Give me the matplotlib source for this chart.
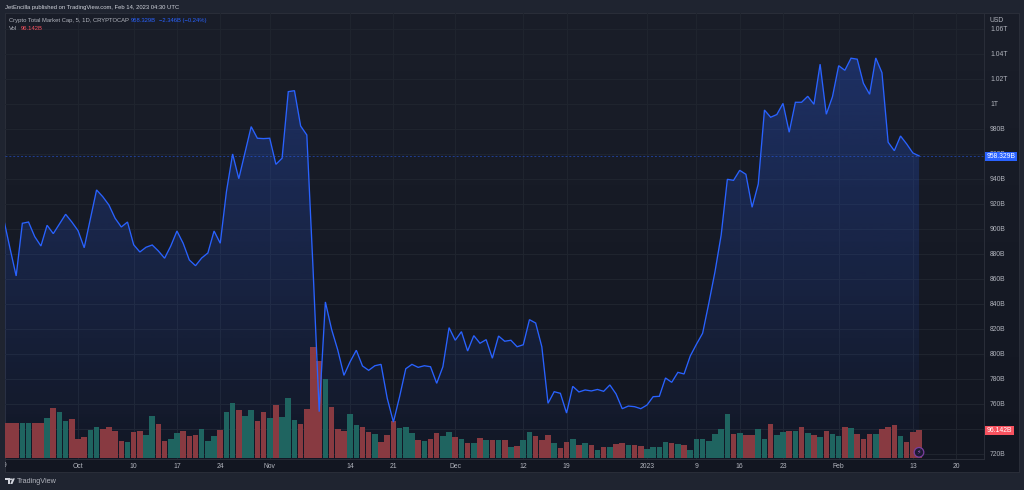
import numpy as np
import pandas as pd
import matplotlib
matplotlib.use("Agg")
import matplotlib.pyplot as plt
import matplotlib.dates as mdates
from matplotlib.patches import Rectangle, Circle, Polygon
from matplotlib.transforms import Bbox

plt.rcParams['font.family'] = ['Liberation Sans', 'DejaVu Sans']

start_date = '2022-09-19'
price = [907.3,884.4,862.2,904.4,905.4,893.7,886.2,902.8,896.1,903.8,911.6,905.4,898.5,884.8,908.1,931.1,925.7,919,908.4,901.4,
905.4,887.2,881.4,885.2,887,882.2,876.4,886.2,898.2,888.4,875,870.4,876.6,880.6,898.2,888.4,929.7,959.9,940.1,960.9,
981.8,972.5,972.2,972.5,951.6,956.5,1009.8,1010.6,982.3,975.1,868.6,753.5,841.4,819.5,802.9,782.6,793.5,802.7,790.1,786.6,
790.3,791.4,764.2,745.2,765.5,787.9,791.4,789,790.3,789.5,776.2,789.5,820.8,810.7,817.6,802.1,814.4,808.3,811.2,796.3,
814.1,809.9,810.7,805.5,807.1,827.2,824.5,805.5,760.2,769.5,768.2,752.4,773.8,769.3,770.9,770.1,771.3,769.8,774.9,767.7,
755.9,758,757.5,755.9,758.8,765.5,765.8,780.5,777,785,783.7,798.1,807.5,816.3,840.3,865.6,895,939.6,938.8,946.8,
943.6,917.2,935.9,995.1,989.3,991.5,1000.4,977.3,1001.3,1001.3,1006.1,999.7,1031.8,991.7,1005.8,1030.6,1026.9,1036.6,1035.8,1016.5,
1007.7,1036.8,1025,969.3,962.5,974.3,967.9,960.7,958.33]
volume = [120,120,120,120,120,120,120,138.5,171.7,159.1,127,135,65.2,72.1,97.3,107.6,100.7,106.4,93.8,58.4,
56.1,90.4,93.8,79,145.4,117.9,59.5,65.2,87,93.8,76.7,80.1,99.6,58.4,75.5,98.4,157.9,190,164.8,146.5,
164.8,127,159.1,137.3,183.1,141.9,206,131.6,117.9,168.2,381.1,333,271.2,176.3,99.6,93.8,152.2,113.3,107.6,89.3,
82.4,56.1,79,127,104.1,107.6,87,62.9,59.5,65.2,87,75.5,90.4,73.2,65.2,52.6,52.6,69.8,61.8,62.9,
62.9,61.8,38.9,42.3,61.8,89.3,76.7,61.8,79,52.6,35.5,54.9,66.4,45.8,51.5,45.8,28.6,37.8,37.8,48.1,
52.6,45.8,45.8,42.3,32,38.9,38.9,56.1,52.6,48.1,45.8,28.6,66.4,66.4,58.4,83.5,99.6,152.2,82.4,87,
79,79,100.7,66.4,117.9,81.3,89.3,92.7,93.8,106.4,87,80.1,72.1,93.8,82.4,76.7,107.6,103,82.4,65.2,
83.5,83.5,99.6,107.6,113.3,76.7,54.9,89.3,96.14]
vol_dir = ("rrrttrr" "t" "r" "tt" "rrr" "tt" "rrrr" "t" "rr" "tt" "rr" "tt" "rrr" "ttt" "r" "tt" "r" "tt" "rr"
           "t" "r" "ttt" "rrrr" "t" "rrr" "tt" "rr" "t" "rrr" "ttt" "r" "t" "rr" "tt" "r" "t" "r" "t" "r" "t" "r" "t" "r"
           "t" "r" "tt" "rrr" "t" "rr" "t" "r" "t" "r" "t" "r" "t" "rr" "t" "rr" "tttt" "r" "t" "r" "ttttttt" "r" "t" "rr"
           "tt" "r" "tt" "r" "t" "r" "t" "r" "t" "r" "tt" "r" "t" "rrr" "t" "rrr" "t" "rrr")
tick_dates = ['2022-10-01','2022-10-10','2022-10-17','2022-10-24','2022-11-01','2022-11-14','2022-11-21',
              '2022-12-01','2022-12-12','2022-12-19','2023-01-01','2023-01-09','2023-01-16','2023-01-23','2023-02-01',
              '2023-02-13','2023-02-20']
tick_labels = ['Oct','10','17','24','Nov','14','21','Dec','12','19','2023','9','16','23','Feb','13','20']
price_ticks = list(range(720, 1061, 20))
price_labels = ['720B','','760B','780B','800B','820B','840B','860B','880B','900B','920B','940B','960B','980B',
                '1T','1.02T','1.04T','1.06T']

W, H = 1024, 490
FS = 4.9
FH = 4.25
OUTER = '#1f2430'
GRID = '#20252f'
BLUE = '#2962ff'
TXT = '#b2b5be'

def fx(x): return x / W
def fy(y): return 1 - y / H

fig = plt.figure(figsize=(W / 100, H / 100), dpi=100, facecolor=OUTER)

# widget background with its faint vertical gradient
bg = fig.add_axes([fx(5), fy(472), fx(1019 - 5), (472 - 13.5) / H], zorder=0)
top_c, bot_c = np.array([0x1a, 0x1e, 0x29]) / 255, np.array([0x12, 0x16, 0x21]) / 255
t = np.linspace(0, 1, 256)[:, None, None]
bg.imshow(top_c[None, None, :] * (1 - t) + bot_c[None, None, :] * t, aspect='auto', extent=[0, 1, 0, 1])
bg.set_xticks([]); bg.set_yticks([])
for s in bg.spines.values():
    s.set_color('#2a2e39'); s.set_linewidth(0.7)

rect = [fx(5), fy(459), fx(984 - 5), (459 - 13.5) / H]
x = mdates.date2num(pd.date_range(start_date, periods=len(price)))
xlim = (x[0] + 0.194, x[0] + 158.5)
plim = (715.6, 1072.4)
vlim = (-2.4, 1526)

ax = fig.add_axes(rect, zorder=1, facecolor='none')
ax.set_xlim(xlim); ax.set_ylim(plim)
ax.set_xticks(mdates.date2num(pd.to_datetime(tick_dates)))
ax.set_xticklabels(tick_labels)
ax.set_yticks(price_ticks)
ax.set_yticklabels(price_labels)
ax.yaxis.tick_right()
ax.tick_params(axis='x', length=0, pad=2.6, labelsize=FS, labelcolor=TXT)
ax.tick_params(axis='y', length=0, pad=4.3, labelsize=FS, labelcolor=TXT)
for lab in ax.get_yticklabels():
    lab.set_ha('left')
ax.grid(True, color=GRID, lw=0.7)
ax.set_axisbelow(True)
for s in ax.spines.values():
    s.set_visible(False)
for side in ('right', 'bottom'):
    ax.spines[side].set_visible(True)
    ax.spines[side].set_color('#2a2e39')
    ax.spines[side].set_linewidth(0.7)

# area under the price line, gradient fading downwards
poly = ax.fill_between(x, price, plim[0], color='none', lw=0)
grad = np.zeros((256, 1, 4))
grad[..., :3] = matplotlib.colors.to_rgb(BLUE)
grad[..., 3] = np.linspace(0.28, 0.02, 256)[:, None]
im = ax.imshow(grad, aspect='auto', extent=[x[0], x[-1], plim[0], max(price)], zorder=1.5)
im.set_clip_path(poly.get_paths()[0], transform=ax.transData)
ax.set_xlim(xlim); ax.set_ylim(plim)
ax.axhline(price[-1], color=BLUE, lw=0.7, ls=(0, (2, 2)), alpha=0.5, zorder=1.6)

# volume bars
axv = fig.add_axes(rect, zorder=2, facecolor='none')
colors = [('#1f6460' if d == 't' else '#883a41') for d in vol_dir]
axv.bar(x, volume, width=0.9, color=colors, lw=0)
axv.set_xlim(xlim); axv.set_ylim(vlim)
axv.axis('off')

# price line
axl = fig.add_axes(rect, zorder=3, facecolor='none')
axl.plot(x, price, color=BLUE, lw=0.95, solid_joinstyle='miter')
axl.set_xlim(xlim); axl.set_ylim(plim)
axl.axis('off')

# overlay layer for tags, header and logo
ov = fig.add_axes([0, 0, 1, 1], zorder=5, facecolor='none')
ov.set_xlim(0, W); ov.set_ylim(H, 0); ov.axis('off')
ov.add_patch(Rectangle((985, 152), 32, 9, color=BLUE, lw=0))
ov.add_patch(Rectangle((985, 426), 29, 9, color='#f7525f', lw=0))
ov.text(1001, 156.5, '958.329B', color='white', fontsize=FS, ha='center', va='center')
ov.text(999.5, 430.5, '96.142B', color='white', fontsize=FS, ha='center', va='center')
ov.text(990, 20, 'USD', color=TXT, fontsize=FS, va='center')
ov.text(5, 7.5, 'JetEncilla published on TradingView.com, Feb 14, 2023 04:30 UTC', color='#d1d4dc', fontsize=FH, va='center')
ov.text(9, 20.5, 'Crypto Total Market Cap, 5, 1D, CRYPTOCAP', color=TXT, fontsize=FH, va='center')
ov.text(131, 20.5, '958.329B', color=BLUE, fontsize=FH, va='center')
ov.text(159, 20.5, '\u22122.346B (\u22120.24%)', color=BLUE, fontsize=FH, va='center')
ov.text(9, 29, 'Vol', color=TXT, fontsize=FH, va='center')
ov.text(21, 29, '96.142B', color='#f7525f', fontsize=FH, va='center')
first = ov.text(3.8, 465.5, '19', color=TXT, fontsize=FS, ha='center', va='center')
first.set_clip_on(True)
first.set_clip_box(Bbox([[5, 0], [W, H]]))
ov.text(17, 481, 'TradingView', color=TXT, fontsize=5.2, va='center')
ov.add_patch(Rectangle((5.3, 478.4), 4.2, 1.8, color='#d1d4dc', lw=0))
ov.add_patch(Rectangle((7.5, 478.4), 2.0, 5.6, color='#d1d4dc', lw=0))
ov.add_patch(Circle((11, 479.3), 1.0, color='#d1d4dc', lw=0))
ov.add_patch(Polygon([(12.6, 478.4), (14.9, 478.4), (12.4, 484), (10.2, 484)], color='#d1d4dc', lw=0))
ov.add_patch(Circle((919, 452.3), 4.8, facecolor='#1c1a33', edgecolor='#7b3fa0', lw=0.9))
ov.text(919, 452.3, '\u26a1', color='#9c5ec4', fontsize=4.5, ha='center', va='center', family='DejaVu Sans')

fig.savefig('out.png', dpi=100, facecolor=OUTER)
